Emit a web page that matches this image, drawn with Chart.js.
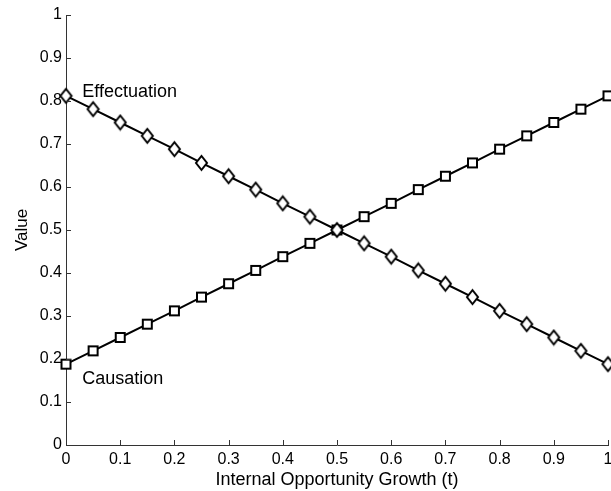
<!DOCTYPE html>
<html>
<head>
<meta charset="utf-8">
<script src="https://cdn.jsdelivr.net/npm/chart.js@4.4.1/dist/chart.umd.min.js"></script>
<style>
  html, body { margin: 0; padding: 0; background: #fff; }
  #wrap { width: 611px; height: 491px; overflow: hidden; }
  #inner { width: 614px; height: 491px; position: relative; }
</style>
</head>
<body>
<div id="wrap"><div id="inner"><canvas id="chart"></canvas></div></div>
<script>
// values
var growth = [0, 0.05, 0.1, 0.15, 0.2, 0.25, 0.3, 0.35, 0.4, 0.45, 0.5,
  0.55, 0.6, 0.65, 0.7, 0.75, 0.8, 0.85, 0.9, 0.95, 1];
var effectuation = [0.812, 0.781, 0.75, 0.719, 0.688, 0.656, 0.625, 0.594, 0.562, 0.531, 0.5,
  0.469, 0.438, 0.406, 0.375, 0.344, 0.312, 0.281, 0.25, 0.219, 0.188];
var causation = [0.188, 0.219, 0.25, 0.281, 0.312, 0.344, 0.375, 0.406, 0.438, 0.469, 0.5,
  0.531, 0.562, 0.594, 0.625, 0.656, 0.688, 0.719, 0.75, 0.781, 0.812];
var xTicks = [0, 0.1, 0.2, 0.3, 0.4, 0.5, 0.6, 0.7, 0.8, 0.9, 1];
var yTicks = [0, 0.1, 0.2, 0.3, 0.4, 0.5, 0.6, 0.7, 0.8, 0.9, 1];

var FONT = "'Liberation Sans', Arial, sans-serif";
var AXIS = "#333";

// markers: open diamond and open square
function diamond() {
  var c = document.createElement("canvas");
  c.width = 15; c.height = 18;
  var g = c.getContext("2d");
  g.beginPath();
  g.moveTo(7.5, 2); g.lineTo(13, 9); g.lineTo(7.5, 16); g.lineTo(2, 9); g.closePath();
  g.fillStyle = "#fff"; g.fill();
  g.lineWidth = 2; g.strokeStyle = "#000"; g.stroke();
  return c;
}
function square() {
  var c = document.createElement("canvas");
  c.width = 13; c.height = 13;
  var g = c.getContext("2d");
  g.fillStyle = "#fff"; g.fillRect(2, 2, 9, 9);
  g.lineWidth = 2; g.strokeStyle = "#000"; g.strokeRect(2, 2, 9, 9);
  return c;
}

function toXY(xs, ys) {
  return xs.map(function (x, i) { return { x: x, y: ys[i] }; });
}

// inward tick marks + text labels
var extras = {
  id: "extras",
  afterDraw: function (chart) {
    var ctx = chart.ctx, xs = chart.scales.x, ys = chart.scales.y, a = chart.chartArea;
    ctx.save();
    ctx.strokeStyle = AXIS;
    ctx.lineWidth = 1;
    ctx.beginPath();
    xTicks.forEach(function (t) {
      var px = Math.round(xs.getPixelForValue(t)) + 0.5;
      ctx.moveTo(px, a.bottom); ctx.lineTo(px, a.bottom - 5);
    });
    yTicks.forEach(function (t) {
      var py = Math.round(ys.getPixelForValue(t)) + 0.5;
      ctx.moveTo(a.left, py); ctx.lineTo(a.left + 5, py);
    });
    ctx.stroke();
    ctx.fillStyle = "#000";
    ctx.font = "18px " + FONT;
    ctx.textAlign = "left";
    ctx.textBaseline = "middle";
    ctx.fillText("Effectuation", xs.getPixelForValue(0.03), ys.getPixelForValue(0.82));
    ctx.fillText("Causation", xs.getPixelForValue(0.03), ys.getPixelForValue(0.153));
    ctx.restore();
  }
};

function fmt(v) { return String(v); }

new Chart(document.getElementById("chart"), {
  type: "line",
  data: {
    datasets: [
      {
        label: "Effectuation",
        data: toXY(growth, effectuation),
        borderColor: "#000",
        borderWidth: 2,
        pointStyle: diamond(),
        clip: false
      },
      {
        label: "Causation",
        data: toXY(growth, causation),
        borderColor: "#000",
        borderWidth: 2,
        pointStyle: square(),
        clip: false
      }
    ]
  },
  options: {
    responsive: true,
    maintainAspectRatio: false,
    animation: false,
    devicePixelRatio: 1,
    layout: { padding: { top: 15, right: 0, bottom: 0, left: 0 } },
    plugins: { legend: { display: false }, tooltip: { enabled: false } },
    scales: {
      x: {
        type: "linear",
        min: 0,
        max: 1,
        afterBuildTicks: function (s) { s.ticks = xTicks.map(function (v) { return { value: v }; }); },
        afterFit: function (s) { s.height = 46; s.paddingRight = 0; },
        grid: { display: false, drawTicks: false },
        border: { display: true, color: AXIS, width: 1 },
        ticks: { color: "#000", padding: 5, maxRotation: 0, autoSkip: false, callback: fmt, font: { family: FONT, size: 16 } },
        title: { display: true, text: "Internal Opportunity Growth (t)", color: "#000", padding: { top: 0, bottom: 0 }, font: { family: FONT, size: 18 } }
      },
      y: {
        min: 0,
        max: 1,
        afterBuildTicks: function (s) { s.ticks = yTicks.map(function (v) { return { value: v }; }); },
        afterFit: function (s) { s.width = 66; s.paddingTop = 0; s.paddingBottom = 0; },
        grid: { display: false, drawTicks: false },
        border: { display: true, color: AXIS, width: 1 },
        ticks: { color: "#000", padding: 4, autoSkip: false, callback: fmt, font: { family: FONT, size: 16 } },
        title: { display: true, text: "Value", color: "#000", padding: { top: 12, bottom: 0 }, font: { family: FONT, size: 17 } }
      }
    }
  },
  plugins: [extras]
});
</script>
</body>
</html>
